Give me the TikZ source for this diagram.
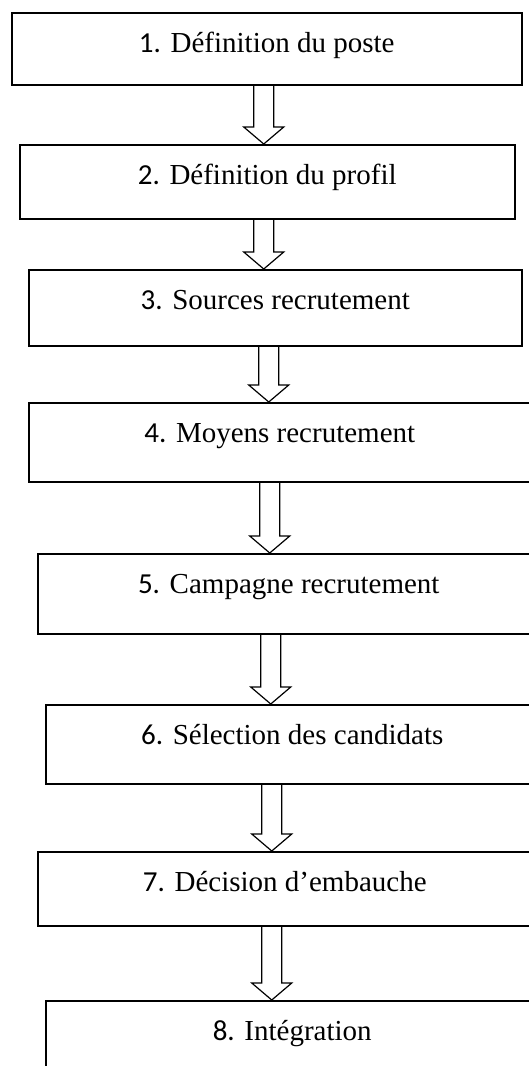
\documentclass[tikz,border=0pt]{standalone}
\usepackage{fontspec}
\setmainfont{Liberation Serif}
\newfontfamily\chiffre{Carlito}
\usetikzlibrary{calc}
\tikzset{
    etape/.style = {draw, rectangle, line width=1.5pt, inner sep=0pt,
        anchor=north west, text height=40pt,
        font=\fontsize{29}{33}\selectfont},
    fleche/.style = {draw, line width=1.2pt, to path={
        let \p1=(\tikztostart), \p2=(\tikztotarget) in
        (\x1-10pt,\y1) -- (\x1-10pt,\y2+17pt) -- (\x1-20pt,\y2+17pt)
        -- (\x1,\y2) -- (\x1+20pt,\y2+17pt) -- (\x1+10pt,\y2+17pt)
        -- (\x1+10pt,\y1)}}
}

\begin{document}
\begin{tikzpicture}[x=1pt, y=-1pt]
  \useasboundingbox (0,0) rectangle (528,1066);
  % etapes du recrutement
  \node[etape, minimum width=510pt, text depth=32pt] (b1) at (11,12) {{\chiffre 1.} Définition du poste};
  \node[etape, minimum width=495pt, text depth=34pt] (b2) at (19,144) {{\chiffre 2.} Définition du profil};
  \node[etape, minimum width=493pt, text depth=36pt] (b3) at (28,269) {{\chiffre 3.} Sources recrutement};
  \node[etape, minimum width=502pt, text depth=39pt] (b4) at (28,402) {{\chiffre 4.} Moyens recrutement};
  \node[etape, minimum width=502pt, text depth=40pt] (b5) at (37,553) {{\chiffre 5.} Campagne recrutement};
  \node[etape, minimum width=493pt, text depth=39pt] (b6) at (45,704) {{\chiffre 6.} Sélection des candidats};
  \node[etape, minimum width=494pt, text depth=34pt] (b7) at (37,851) {{\chiffre 7.} Décision d’embauche};
  \node[etape, minimum width=493pt, text depth=36pt] (b8) at (45,1000) {{\chiffre 8.} Intégration};
  % fleches creuses
  \foreach \a/\b/\dx in {b1/b2/-3, b2/b3/-3.5, b3/b4/-6.5, b4/b5/-10,
                         b5/b6/-18, b6/b7/-20.5, b7/b8/-13}{
    \draw[fleche] ([xshift=\dx pt]\a.south) to (\b.north);
  };
\end{tikzpicture}
\end{document}
